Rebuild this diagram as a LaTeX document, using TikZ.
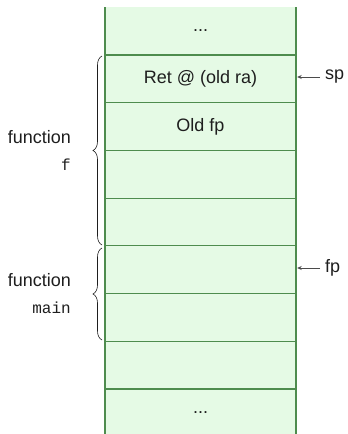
\documentclass[tikz,border=0pt]{standalone}
\usepackage{fontspec}
\setmainfont{Liberation Sans}
\setmonofont{Liberation Mono}
\usetikzlibrary{decorations.pathreplacing,arrows.meta}
\definecolor{cellfill}{RGB}{229,250,229}
\definecolor{cellline}{RGB}{78,140,78}
\definecolor{ink}{RGB}{30,30,30}
\begin{document}
\begin{tikzpicture}[x=1pt,y=-1pt,
  cell/.style={minimum width=191pt,minimum height=47pt,inner sep=0pt,font=\fontsize{18}{21}\selectfont,text=ink},
  sepline/.style={draw=cellline,line width=1.1pt},
  lbl/.style={font=\fontsize{18}{21}\selectfont,text=ink,inner sep=0pt},
  mono/.style={font=\fontsize{16}{19}\ttfamily,text=ink,inner sep=0pt},
  ptr/.style={draw=ink!80,line width=0.7pt,-{Stealth[length=4.5pt,width=4pt]}},
  bracestyle/.style={draw=ink,line width=0.6pt,decorate,decoration={brace,amplitude=9pt}}]
\useasboundingbox (0,0) rectangle (348,434);
\fill[cellfill] (105,7) rectangle (296,434);
\foreach \k in {0,...,7} {
  \draw[sepline] (105,{55+47.71*\k}) -- (296,{55+47.71*\k});
}
\draw[sepline] (105,7) -- (105,434);
\draw[sepline] (296,7) -- (296,434);
\node[cell] (c0) at (200.5,31) {...};
\node[cell] (c1) at (200.5,78.8) {Ret @ (old ra)};
\node[cell] (c2) at (200.5,126.5) {Old fp};
\node[cell] (c3) at (200.5,174.2) {};
\node[cell] (c4) at (200.5,222) {};
\node[cell] (c5) at (200.5,269.7) {};
\node[cell] (c6) at (200.5,317.4) {};
\node[cell] (c7) at (200.5,365.1) {};
\node[cell] (c8) at (200.5,412.8) {...};
\node[lbl,anchor=west] (sp) at (325,77) {sp};
\node[lbl,anchor=west] (fp) at (325,268) {fp};
\draw[ptr,shorten <=5pt,shorten >=1pt] (sp.west) -- (sp.west -| c1.east);
\draw[ptr,shorten <=5pt,shorten >=1pt] (fp.west) -- (fp.west -| c5.east);
\draw[bracestyle] (102,245) -- (102,56);
\draw[bracestyle] (102,340) -- (102,248);
\node[lbl,anchor=east] (ff) at (71,137) {function};
\node[mono,anchor=east] (fn) at (71,165) {f};
\node[lbl,anchor=east] (mf) at (71,280) {function};
\node[mono,anchor=east] (mn) at (71,308) {main};
\end{tikzpicture}
\end{document}
